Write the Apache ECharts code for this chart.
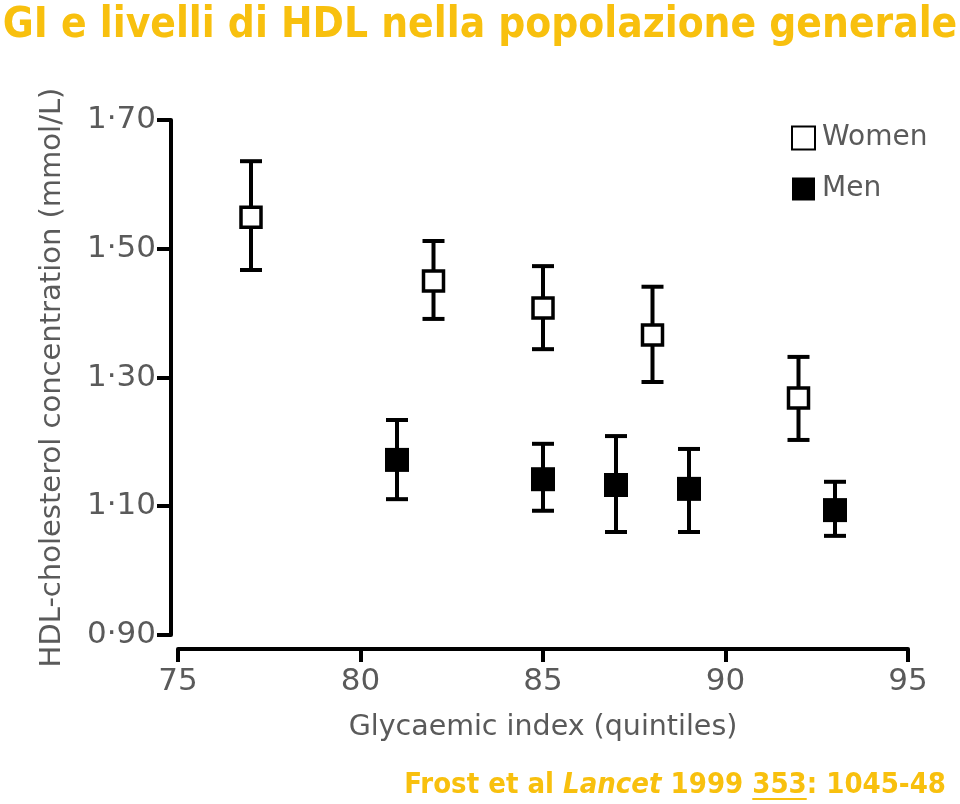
<!DOCTYPE html>
<html><head><meta charset="utf-8">
<script src="https://cdn.jsdelivr.net/npm/echarts@6/dist/echarts.min.js"></script>
<style>html,body{margin:0;padding:0;background:#fff}#c{width:960px;height:804px}</style>
</head><body><div id="c"></div>
<script>
const titleText = 'GI e livelli di HDL nella popolazione generale';
const xTicks = [75, 80, 85, 90, 95];
const yTicks = [0.90, 1.10, 1.30, 1.50, 1.70];
const womenGI = [77, 82, 85, 88, 92];
const womenHDL = [1.549, 1.450, 1.408, 1.366, 1.268];
const womenLow = [1.467, 1.391, 1.344, 1.293, 1.203];
const womenHigh = [1.636, 1.512, 1.473, 1.441, 1.332];
const menGI = [81, 85, 87, 89, 93];
const menHDL = [1.172, 1.142, 1.133, 1.127, 1.094];
const menLow = [1.111, 1.093, 1.060, 1.060, 1.054];
const menHigh = [1.234, 1.197, 1.209, 1.189, 1.138];

const gold = '#F8C00E';
const gray = '#5a5a5a';
const sansF = '"DejaVu Sans", sans-serif';
const condF = '"DejaVu Sans Condensed", "DejaVu Sans", sans-serif';

const chart = echarts.init(document.getElementById('c'), null, {renderer: 'canvas'});

function errRender(params, api) {
  const x = api.value(0), lo = api.value(1), hi = api.value(2);
  const t = api.coord([x, hi]), b = api.coord([x, lo]);
  const hw = 11, st = {stroke: '#000', lineWidth: 4};
  return {type: 'group', children: [
    {type: 'line', shape: {x1: t[0], y1: t[1], x2: b[0], y2: b[1]}, style: st},
    {type: 'line', shape: {x1: t[0] - hw, y1: t[1], x2: t[0] + hw, y2: t[1]}, style: st},
    {type: 'line', shape: {x1: b[0] - hw, y1: b[1], x2: b[0] + hw, y2: b[1]}, style: st}
  ]};
}

// footer layout measurement
const mctx = document.createElement('canvas').getContext('2d');
function tw(s, font) { mctx.font = font; return mctx.measureText(s).width; }
const fSize = 29;
const fNorm = 'bold ' + fSize + 'px ' + condF;
const fItal = 'italic bold ' + fSize + 'px ' + condF;
const seg1 = 'Frost et al ', seg2 = 'Lancet', seg3 = ' 1999 ', seg4 = '353', seg5 = ': 1045-48';
const w1 = tw(seg1, fNorm), w2 = tw(seg2, fItal), w3 = tw(seg3, fNorm), w4 = tw(seg4, fNorm), w5 = tw(seg5, fNorm);
const footRight = 946;
const footStart = footRight - (w1 + w2 + w3 + w4 + w5);
const ulX1 = footStart + w1 + w2 + w3, ulX2 = ulX1 + w4;
const footTop = 771;

const fmtY = v => v.toFixed(2).replace('.', '\u00B7');

chart.setOption({
  animation: false,
  backgroundColor: '#fff',
  title: {
    text: titleText, left: 'center', top: 0,
    textStyle: {fontFamily: condF, fontWeight: 'bold', fontSize: 42, color: gold,
      textShadowColor: '#9a9a9a', textShadowOffsetX: 2, textShadowOffsetY: 2, textShadowBlur: 0}
  },
  legend: {
    orient: 'vertical', left: 786, top: 119, itemWidth: 23, itemHeight: 23, itemGap: 23,
    data: ['Women', 'Men'],
    textStyle: {fontFamily: sansF, fontSize: 28, color: gray, padding: [0, 0, 0, 2]}
  },
  grid: {left: 178, right: 52, top: 120, bottom: 169, containLabel: false},
  xAxis: {
    type: 'value', min: xTicks[0], max: xTicks[xTicks.length - 1], interval: 5, offset: 14,
    name: 'Glycaemic index (quintiles)', nameLocation: 'middle', nameGap: 64,
    nameTextStyle: {fontFamily: sansF, fontSize: 28.5, color: gray},
    axisLine: {lineStyle: {color: '#000', width: 4}},
    axisTick: {length: 13, lineStyle: {color: '#000', width: 4}},
    axisLabel: {fontFamily: sansF, fontSize: 31, color: gray, margin: 17},
    splitLine: {show: false}
  },
  yAxis: {
    type: 'value', min: yTicks[0], max: yTicks[yTicks.length - 1], interval: 0.2, offset: 7,
    name: 'HDL-cholesterol concentration (mmol/L)', nameLocation: 'middle', nameGap: 104,
    nameTextStyle: {fontFamily: sansF, fontSize: 29, color: gray},
    axisLine: {show: true, lineStyle: {color: '#000', width: 4}},
    axisTick: {show: true, length: 14, lineStyle: {color: '#000', width: 4}},
    axisLabel: {fontFamily: sansF, fontSize: 31, color: gray, margin: 15, formatter: fmtY},
    splitLine: {show: false}
  },
  graphic: [
    {type: 'text', left: footStart, top: footTop, z: 10,
      style: {text: '{n|' + seg1 + '}{i|' + seg2 + '}{n|' + seg3 + seg4 + seg5 + '}',
        rich: {
          n: {font: fNorm, fill: gold, textShadowColor: '#b0b0b0', textShadowOffsetX: 1, textShadowOffsetY: 1},
          i: {font: fItal, fill: gold, textShadowColor: '#b0b0b0', textShadowOffsetX: 1, textShadowOffsetY: 1}
        }}},
    {type: 'line', z: 10, shape: {x1: ulX1, y1: footTop + 28, x2: ulX2, y2: footTop + 28},
      style: {stroke: gold, lineWidth: 2}}
  ],
  series: [
    {type: 'custom', name: 'errW', renderItem: errRender, z: 1,
      data: womenGI.map((x, i) => [x, womenLow[i], womenHigh[i]])},
    {type: 'custom', name: 'errM', renderItem: errRender, z: 1,
      data: menGI.map((x, i) => [x, menLow[i], menHigh[i]])},
    {type: 'scatter', name: 'Women', symbol: 'rect', symbolSize: 20, z: 5,
      itemStyle: {color: '#fff', borderColor: '#000', borderWidth: 3.5, opacity: 1},
      data: womenGI.map((x, i) => [x, womenHDL[i]])},
    {type: 'scatter', name: 'Men', symbol: 'rect', symbolSize: 24, z: 5,
      itemStyle: {color: '#000', borderColor: '#000', borderWidth: 0, opacity: 1},
      data: menGI.map((x, i) => [x, menHDL[i]])}
  ]
});
</script></body></html>
